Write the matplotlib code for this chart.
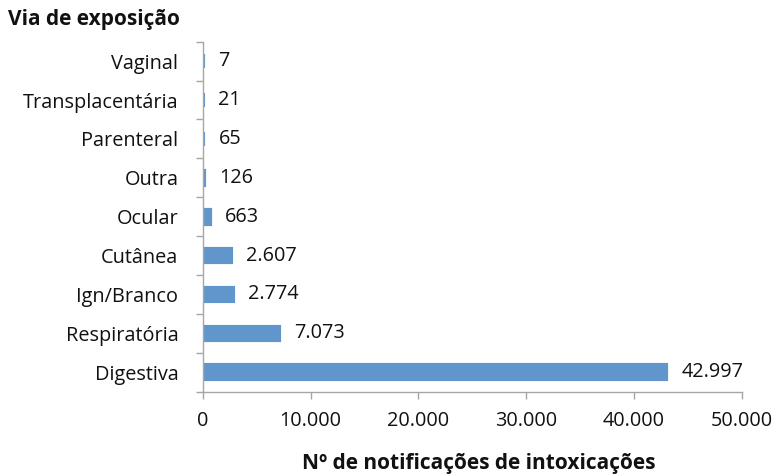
import matplotlib
matplotlib.use("Agg")
import matplotlib.pyplot as plt
from matplotlib.ticker import FuncFormatter, FixedLocator
import numpy as np

categories = ["Digestiva", "Respiratória", "Ign/Branco", "Cutânea", "Ocular",
              "Outra", "Parenteral", "Transplacentária", "Vaginal"]
values = [42997, 7073, 2774, 2607, 663, 126, 65, 21, 7]
xticks = [0, 10000, 20000, 30000, 40000, 50000]

plt.rcParams['font.family'] = ['Open Sans', 'DejaVu Sans']

def br(v):
    return f"{int(v):,}".replace(",", ".")

FS = 14.3
fig = plt.figure(figsize=(7.74, 4.75), dpi=100)
ax = fig.add_axes([202.7/774, 1 - 391.7/475, (741.7-202.7)/774, (391.7-41.7)/475])

y = np.arange(len(categories))
ax.barh(y, values, height=0.35, color="#6096CB", edgecolor="#6096CB", linewidth=3)
ax.set_xlim(0, 50000)
ax.set_ylim(-0.5, len(categories) - 0.5)

for yi, v in zip(y, values):
    ax.annotate(br(v), (v, yi), xytext=(11, 0), textcoords="offset points",
                va="center", ha="left", fontsize=FS, color="#111111")

ax.set_xticks(xticks)
ax.xaxis.set_major_formatter(FuncFormatter(lambda v, p: br(v)))
ax.set_yticks(y)
ax.set_yticklabels(categories)
ax.yaxis.set_minor_locator(FixedLocator(np.arange(-0.5, len(categories), 1)))
ax.tick_params(axis="y", which="major", length=0, pad=17.5, labelsize=FS, labelcolor="#111111")
ax.tick_params(axis="y", which="minor", length=5, width=1, color="#A6A6A6", direction="out")
ax.tick_params(axis="x", which="major", length=5, width=1, color="#A6A6A6", direction="out",
               pad=9, labelsize=FS, labelcolor="#111111")

for s in ["top", "right"]:
    ax.spines[s].set_visible(False)
for s in ["left", "bottom"]:
    ax.spines[s].set_color("#A6A6A6")
    ax.spines[s].set_linewidth(1)
    ax.spines[s].set_zorder(5)

fig.text(8/774, 1 - 20/475, "Via de exposição", fontsize=15, fontweight="bold",
         ha="left", va="center", color="#111111")
fig.text(479/774, 1 - 463/475, "Nº de notificações de intoxicações", fontsize=15,
         fontweight="bold", ha="center", va="center", color="#111111")

fig.savefig("out.png", dpi=100)
